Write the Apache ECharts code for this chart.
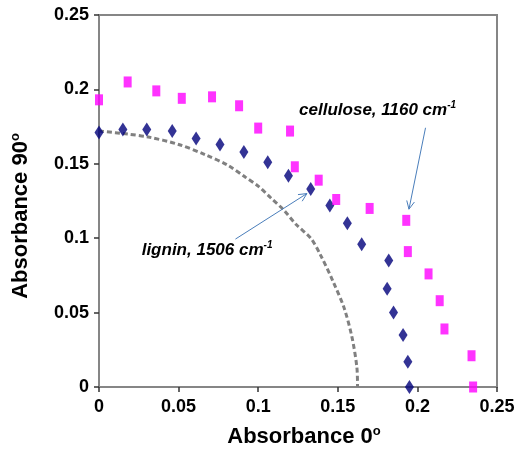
<!DOCTYPE html>
<html>
<head>
<meta charset="utf-8">
<script src="https://cdn.jsdelivr.net/npm/echarts@6/dist/echarts.min.js"></script>
<style>
  html, body { margin: 0; padding: 0; background: #fff; }
  #main { width: 519px; height: 453px; }
</style>
</head>
<body>
<div id="main"></div>
<script>
// lignin, 1506 cm-1 (navy diamonds)
var ligninX = [0, 0.015, 0.030, 0.046, 0.061, 0.076, 0.091, 0.106, 0.119, 0.133, 0.145, 0.156, 0.165, 0.182, 0.181, 0.185, 0.191, 0.194, 0.195];
var ligninY = [0.171, 0.173, 0.173, 0.172, 0.167, 0.163, 0.158, 0.151, 0.142, 0.133, 0.122, 0.110, 0.096, 0.085, 0.066, 0.050, 0.035, 0.017, 0];
// cellulose, 1160 cm-1 (magenta squares)
var celluloseX = [0, 0.018, 0.036, 0.052, 0.071, 0.088, 0.100, 0.120, 0.123, 0.138, 0.149, 0.170, 0.193, 0.194, 0.207, 0.214, 0.217, 0.234, 0.235];
var celluloseY = [0.193, 0.205, 0.199, 0.194, 0.195, 0.189, 0.174, 0.172, 0.148, 0.139, 0.126, 0.120, 0.112, 0.091, 0.076, 0.058, 0.039, 0.021, 0];
// dashed reference curve
var curveX = [0, 0.018, 0.031, 0.050, 0.067, 0.081, 0.092, 0.100, 0.108, 0.116, 0.124, 0.133, 0.139, 0.147, 0.154, 0.159, 0.162, 0.1624];
var curveY = [0.172, 0.170, 0.168, 0.163, 0.156, 0.149, 0.141, 0.135, 0.127, 0.119, 0.109, 0.100, 0.089, 0.071, 0.053, 0.033, 0.013, 0];

function pairs(xs, ys) {
  var out = [];
  for (var i = 0; i < xs.length; i++) out.push([xs[i], ys[i]]);
  return out;
}

var chart = echarts.init(document.getElementById('main'));

var font = 'Liberation Sans, Arial, sans-serif';
var tickFont = { fontFamily: font, fontWeight: 'bold', fontSize: 18, color: '#000' };
var nameRich = {
  a: { fontFamily: font, fontWeight: 'bold', fontSize: 22, color: '#000', lineHeight: 24 },
  s: { fontFamily: font, fontWeight: 'bold', fontSize: 13, color: '#000', verticalAlign: 'top', lineHeight: 24 }
};

function axisCfg(name, gap, margin, pad) {
  return {
    type: 'value',
    min: 0,
    max: 0.25,
    interval: 0.05,
    name: name,
    nameLocation: 'middle',
    nameGap: gap,
    nameTextStyle: { rich: nameRich, padding: pad },
    axisLine: { show: true, onZero: false, lineStyle: { color: '#868686', width: 2 } },
    axisTick: { show: true, length: 5, lineStyle: { color: '#333', width: 1.5 } },
    axisLabel: Object.assign({ margin: margin }, tickFont),
    splitLine: { show: false }
  };
}

var option = {
  backgroundColor: '#ffffff',
  animation: false,
  grid: { left: 99, right: 22, top: 15, bottom: 64, show: true, borderColor: '#868686', borderWidth: 2 },
  xAxis: axisCfg('{a|Absorbance 0}{s|o}', 38, 11, [0, 0, 0, 12]),
  yAxis: axisCfg('{a|Absorbance 90}{s|o}', 66, 10, [0, 30, 0, 0]),
  series: [
    {
      name: 'curve',
      type: 'line',
      data: pairs(curveX, curveY),
      smooth: 0.3,
      showSymbol: false,
      lineStyle: { color: '#808080', width: 3, type: [5, 3] },
      z: 1
    },
    {
      name: 'lignin, 1506 cm-1',
      type: 'scatter',
      data: pairs(ligninX, ligninY),
      symbol: 'diamond',
      symbolSize: [9, 14],
      itemStyle: { color: '#00007a' },
      clip: false,
      z: 3
    },
    {
      name: 'cellulose, 1160 cm-1',
      type: 'scatter',
      data: pairs(celluloseX, celluloseY),
      symbol: 'rect',
      symbolSize: [8, 11],
      itemStyle: { color: '#ff00ff' },
      clip: false,
      z: 3
    }
  ]
};

chart.setOption(option);

// annotations (in data coordinates)
var labels = [
  { text: 'cellulose, 1160 cm', at: [0.1257, 0.1858] },
  { text: 'lignin, 1506 cm', at: [0.0268, 0.0921] }
];
var arrows = [
  { from: [0.2051, 0.1742], to: [0.1947, 0.1195] },
  { from: [0.0857, 0.0994], to: [0.1306, 0.1300] }
];

var graphics = [];
labels.forEach(function (l) {
  var p = chart.convertToPixel({ gridIndex: 0 }, l.at);
  graphics.push({
    type: 'text',
    x: p[0],
    y: p[1],
    z: 10,
    style: {
      text: '{t|' + l.text + '}{s|-1}',
      verticalAlign: 'middle',
      align: 'left',
      rich: {
        t: { fontFamily: font, fontStyle: 'italic', fontWeight: 'bold', fontSize: 17, fill: '#000', lineHeight: 20 },
        s: { fontFamily: font, fontStyle: 'italic', fontWeight: 'bold', fontSize: 10, fill: '#000', verticalAlign: 'top', lineHeight: 20 }
      }
    }
  });
});
arrows.forEach(function (a) {
  var p0 = chart.convertToPixel({ gridIndex: 0 }, a.from);
  var p1 = chart.convertToPixel({ gridIndex: 0 }, a.to);
  var ang = Math.atan2(p1[1] - p0[1], p1[0] - p0[0]);
  var len = 9, spread = 0.45;
  var h1 = [p1[0] - len * Math.cos(ang - spread), p1[1] - len * Math.sin(ang - spread)];
  var h2 = [p1[0] - len * Math.cos(ang + spread), p1[1] - len * Math.sin(ang + spread)];
  graphics.push({
    type: 'line', z: 10,
    shape: { x1: p0[0], y1: p0[1], x2: p1[0], y2: p1[1] },
    style: { stroke: '#4a7ebb', lineWidth: 1 }
  });
  graphics.push({
    type: 'polyline', z: 10,
    shape: { points: [h1, p1, h2] },
    style: { stroke: '#4a7ebb', lineWidth: 1, fill: null }
  });
});

chart.setOption({ graphic: graphics });
</script>
</body>
</html>
